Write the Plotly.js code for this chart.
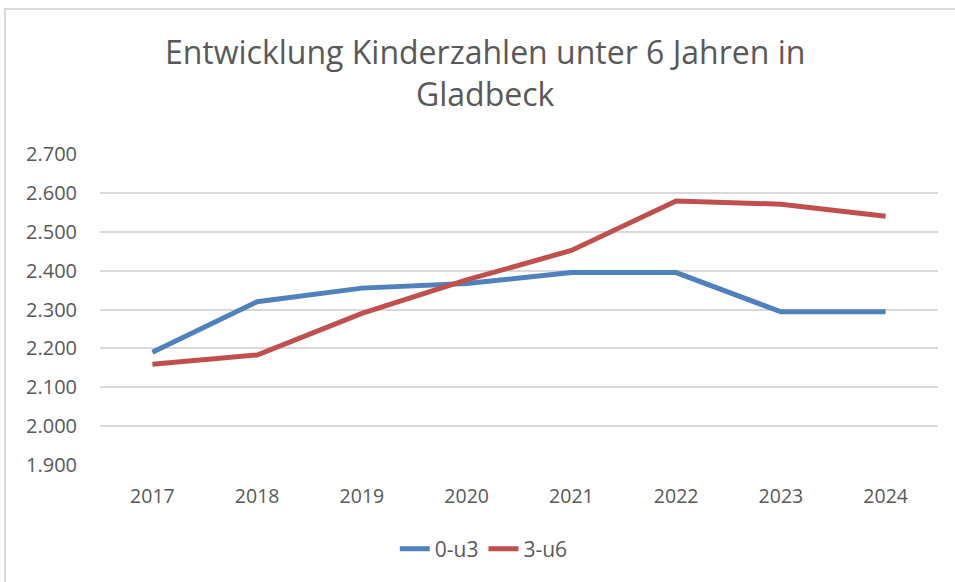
<!DOCTYPE html>
<html>
<head>
<meta charset="utf-8">
<script src="https://cdn.plot.ly/plotly-3.0.1.min.js"></script>
<style>
html,body{margin:0;padding:0;background:#fff;}
#chart{width:955px;height:582px;}
</style>
</head>
<body>
<div id="chart"></div>
<script>
const years = ["2017","2018","2019","2020","2021","2022","2023","2024"];
const u3 = [2190, 2320, 2355, 2367, 2395, 2395, 2294, 2294];
const u6 = [2159, 2183, 2290, 2376, 2452, 2579, 2571, 2540];
const seriesNames = ["0-u3", "3-u6"];
const yTicks = [1900, 2000, 2100, 2200, 2300, 2400, 2500, 2600, 2700];

const FONT = "Open Sans, Noto Sans, sans-serif";
const GRAY = "#595959";

const traces = [
  {x: years, y: u3, name: seriesNames[0], type: "scatter", mode: "lines",
   line: {color: "#4F81BD", width: 5}},
  {x: years, y: u6, name: seriesNames[1], type: "scatter", mode: "lines",
   line: {color: "#C0504D", width: 5}}
];

const layout = {
  width: 955, height: 582,
  margin: {l: 100, r: 17, t: 154, b: 117},
  paper_bgcolor: "#fff", plot_bgcolor: "#fff",
  separators: ",.",
  font: {family: FONT, color: GRAY},
  title: {
    text: "Entwicklung Kinderzahlen unter 6 Jahren in<br>Gladbeck",
    font: {family: FONT, size: 32, color: GRAY},
    xref: "container", x: 0.508, xanchor: "center",
    yref: "container", y: 1 - 64/582, yanchor: "top"
  },
  xaxis: {
    type: "category", range: [-0.5, 7.5],
    showgrid: false, zeroline: false, showline: false,
    ticks: "", tickfont: {size: 19.5, color: GRAY, family: FONT},
    ticklabelstandoff: 17, fixedrange: true
  },
  yaxis: {
    range: [1900, 2700], tickvals: yTicks, tickformat: ",.0f",
    showgrid: true, gridcolor: "#d9d9d9", gridwidth: 2,
    zeroline: false, showline: false, ticks: "",
    tickfont: {size: 20, color: GRAY, family: FONT},
    ticklabelstandoff: 22, fixedrange: true
  },
  showlegend: true,
  legend: {
    orientation: "h", x: 0.458, xanchor: "center",
    y: (465 - 549) / 311, yanchor: "middle",
    font: {size: 21, color: GRAY, family: FONT},
    itemwidth: 30, tracegroupgap: 0
  },
  shapes: [
    {type: "line", xref: "paper", yref: "paper",
     x0: (4 - 100) / 838, x1: (955 - 100) / 838,
     y0: (465 - 9) / 311, y1: (465 - 9) / 311,
     line: {color: "#d9d9d9", width: 2}},
    {type: "line", xref: "paper", yref: "paper",
     x0: (5 - 100) / 838, x1: (5 - 100) / 838,
     y0: (465 - 9) / 311, y1: (465 - 582) / 311,
     line: {color: "#d9d9d9", width: 2}}
  ]
};

Plotly.newPlot("chart", traces, layout, {displayModeBar: false, staticPlot: true});
</script>
</body>
</html>
